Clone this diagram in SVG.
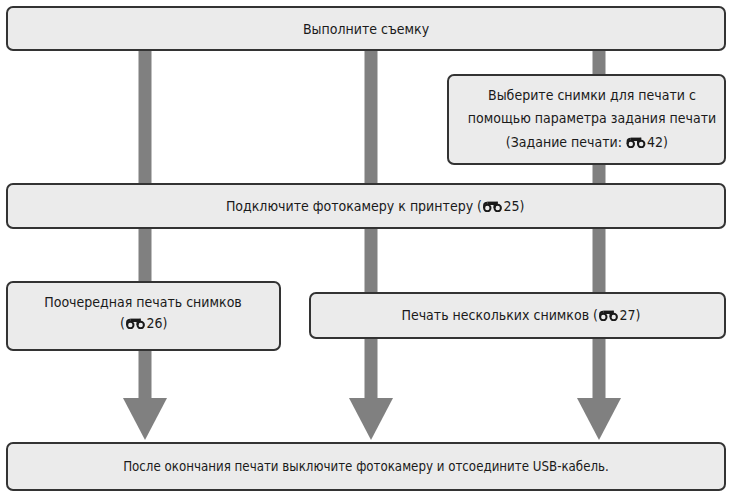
<svg xmlns="http://www.w3.org/2000/svg" xmlns:xlink="http://www.w3.org/1999/xlink" width="732" height="497" viewBox="0 0 732 497">
<style>
  .box { fill: #ebebeb; stroke: #333333; stroke-width: 2; }
  .bar { fill: #808080; }
  .txt { font-family: "DejaVu Sans Condensed", "DejaVu Sans", sans-serif; font-stretch: condensed; font-size: 14px; fill: #1a1a1a; }
  .mid { text-anchor: middle; }
  .end { text-anchor: end; }
  .ic { fill: none; stroke: #1a1a1a; stroke-width: 2; }
</style>
<defs>
  <symbol id="ref" viewBox="0 0 20 11" width="20" height="11">
    <rect x="4.8" y="0.6" width="10.4" height="3.4" fill="#1a1a1a"/>
    <circle class="ic" cx="4.8" cy="7" r="3.2"/>
    <circle class="ic" cx="15.2" cy="7" r="3.2"/>
    <path class="ic" d="M1.6 7 V4.3 Q1.6 1.8 4.8 1.8"/>
    <path class="ic" d="M12 7 V4.3 Q12 1.8 15.2 1.8"/>
  </symbol>
</defs>
<g id="connectors">
  <rect class="bar" x="138.5" y="48" width="13" height="352"/>
  <rect class="bar" x="364.5" y="48" width="13" height="352"/>
  <rect class="bar" x="592.5" y="48" width="13" height="352"/>
  <polygon class="bar" points="123,398 167,398 145,440"/>
  <polygon class="bar" points="349,398 393,398 371,440"/>
  <polygon class="bar" points="577,398 621,398 599,440"/>
</g>
<g id="n1">
  <rect class="box" x="7" y="7" width="718" height="43" rx="6"/>
  <text class="txt mid" x="366" y="34">Выполните съемку</text>
</g>
<g id="n2">
  <rect class="box" x="448" y="75" width="277" height="89" rx="6"/>
  <text class="txt mid" x="592" y="100">Выберите снимки для печати с</text>
  <text class="txt mid" x="592" y="123">помощью параметра задания печати</text>
  <text class="txt end" x="622" y="147">(Задание печати:</text>
  <use xlink:href="#ref" x="626" y="137"/>
  <text class="txt" x="647" y="147">42)</text>
</g>
<g id="n3">
  <rect class="box" x="7" y="184" width="718" height="44" rx="6"/>
  <text class="txt end" x="482" y="211">Подключите фотокамеру к принтеру (</text>
  <use xlink:href="#ref" x="482.5" y="201"/>
  <text class="txt" x="503.5" y="211">25)</text>
</g>
<g id="n4">
  <rect class="box" x="7" y="282" width="273" height="68" rx="6"/>
  <text class="txt mid" x="143" y="307">Поочередная печать снимков</text>
  <text class="txt end" x="125" y="328">(</text>
  <use xlink:href="#ref" x="125.5" y="318"/>
  <text class="txt" x="146.5" y="328">26)</text>
</g>
<g id="n5">
  <rect class="box" x="310" y="293" width="415" height="45" rx="6"/>
  <text class="txt end" x="598" y="320">Печать нескольких снимков (</text>
  <use xlink:href="#ref" x="598.5" y="310"/>
  <text class="txt" x="619.5" y="320">27)</text>
</g>
<g id="n6">
  <rect class="box" x="7" y="443" width="718" height="47" rx="6"/>
  <text class="txt mid" x="366" y="471" style="font-size:13.2px">После окончания печати выключите фотокамеру и отсоедините USB-кабель.</text>
</g>
</svg>
